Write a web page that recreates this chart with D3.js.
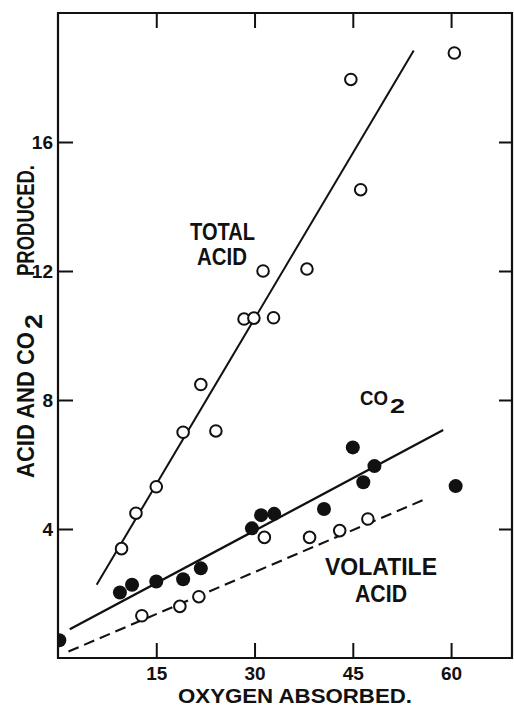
<!DOCTYPE html>
<html>
<head>
<meta charset="utf-8">
<script src="https://cdn.jsdelivr.net/npm/d3@7"></script>
<style>
  html, body { margin: 0; padding: 0; background: #fff; }
  svg { display: block; }
  text { font-family: "Liberation Sans", Arial, sans-serif; font-weight: bold; fill: #111; }
</style>
</head>
<body>
<svg id="chart" width="514" height="709"></svg>
<script>
// ---- data ----
const xTicks = [15, 30, 45, 60];
const yTicks = [4, 8, 12, 16];

const totalAcidX = [9.7, 11.9, 15.0, 19.1, 21.8, 24.1, 28.4, 29.9, 32.9, 31.3, 38.0, 44.7, 46.2, 60.5];
const totalAcidY = [3.39, 4.49, 5.31, 7.0, 8.48, 7.04, 10.51, 10.54, 10.55, 12.0, 12.06, 17.94, 14.52, 18.76];

const co2X = [0.2, 9.45, 11.3, 15.0, 19.1, 21.8, 29.6, 31.0, 33.0, 40.6, 45.0, 46.6, 48.3, 60.7];
const co2Y = [0.55, 2.03, 2.27, 2.37, 2.44, 2.78, 4.02, 4.43, 4.47, 4.62, 6.53, 5.45, 5.95, 5.33];

const volatileX = [12.8, 18.6, 21.5, 31.5, 38.4, 43.0, 47.3];
const volatileY = [1.31, 1.6, 1.9, 3.74, 3.74, 3.95, 4.31];

// fitted lines (endpoints as drawn)
const totalFitX = [5.9, 54.3];
const totalFitY = [2.27, 18.84];
const co2FitX = [1.8, 58.8];
const co2FitY = [0.89, 7.07];
const volatileFitX = [1.6, 56.0];
const volatileFitY = [0.2, 4.92];

// ---- drawing ----
const svg = d3.select("#chart");
const x = d3.scaleLinear().domain([0, 69.3]).range([58, 512]);
const y = d3.scaleLinear().domain([0, 20]).range([658, 13]);

svg.append("clipPath").attr("id", "plotclip")
  .append("rect").attr("x", x(0)).attr("y", y(20)).attr("width", x(69.3) - x(0)).attr("height", y(0) - y(20));

const plot = svg.append("g").attr("clip-path", "url(#plotclip)");

const line = d3.line().x(d => x(d[0])).y(d => y(d[1]));
const pairs = (xs, ys) => xs.map((v, i) => [v, ys[i]]);

plot.append("path").datum(pairs(totalFitX, totalFitY)).attr("d", line)
  .attr("fill", "none").attr("stroke", "#111").attr("stroke-width", 2);
plot.append("path").datum(pairs(co2FitX, co2FitY)).attr("d", line)
  .attr("fill", "none").attr("stroke", "#111").attr("stroke-width", 2.3);
plot.append("path").datum(pairs(volatileFitX, volatileFitY)).attr("d", line)
  .attr("fill", "none").attr("stroke", "#111").attr("stroke-width", 2.1)
  .attr("stroke-dasharray", "11,6");

plot.selectAll("circle.total").data(pairs(totalAcidX, totalAcidY)).join("circle")
  .attr("class", "total").attr("cx", d => x(d[0])).attr("cy", d => y(d[1])).attr("r", 5.8)
  .attr("fill", "#fff").attr("stroke", "#111").attr("stroke-width", 2);
plot.selectAll("circle.vol").data(pairs(volatileX, volatileY)).join("circle")
  .attr("class", "vol").attr("cx", d => x(d[0])).attr("cy", d => y(d[1])).attr("r", 5.8)
  .attr("fill", "#fff").attr("stroke", "#111").attr("stroke-width", 2);
plot.selectAll("circle.co2").data(pairs(co2X, co2Y)).join("circle")
  .attr("class", "co2").attr("cx", d => x(d[0])).attr("cy", d => y(d[1])).attr("r", 7)
  .attr("fill", "#111");

// frame
const frame = svg.append("g").attr("stroke", "#111").attr("stroke-width", 2.2).attr("fill", "none");
frame.append("path").attr("d", `M${x(0)},${y(20)}H${x(69.3)}V${y(0)}H${x(0)}Z`);

// axes with inward ticks
const tickLen = 15;
svg.append("g").attr("transform", `translate(0,${y(0)})`)
  .call(d3.axisBottom(x).tickValues(xTicks).tickSizeInner(-tickLen).tickSizeOuter(0).tickPadding(9))
  .call(g => g.select(".domain").remove());
svg.append("g").attr("transform", `translate(0,${y(20)})`)
  .call(d3.axisTop(x).tickValues(xTicks).tickSizeInner(-tickLen).tickSizeOuter(0).tickFormat(""))
  .call(g => g.select(".domain").remove());
svg.append("g").attr("transform", `translate(${x(0)},0)`)
  .call(d3.axisLeft(y).tickValues(yTicks).tickSizeInner(-tickLen).tickSizeOuter(0).tickPadding(5))
  .call(g => g.select(".domain").remove());
svg.append("g").attr("transform", `translate(${x(69.3)},0)`)
  .call(d3.axisRight(y).tickValues(yTicks).tickSizeInner(-13).tickSizeOuter(0).tickFormat(""))
  .call(g => g.select(".domain").remove());

svg.selectAll(".tick line").attr("stroke", "#111").attr("stroke-width", 2);
svg.selectAll(".tick text").attr("font-family", "'Liberation Sans', Arial, sans-serif")
  .attr("font-weight", "bold").attr("font-size", 19).attr("fill", "#111");

// helper for fitted-width text
function label(xp, yp, str, size, len, anchor) {
  return svg.append("text").attr("x", xp).attr("y", yp).attr("text-anchor", anchor || "start")
    .attr("font-size", size).attr("textLength", len).attr("lengthAdjust", "spacingAndGlyphs").text(str);
}

// axis titles
label(178, 703, "OXYGEN ABSORBED.", 21, 234);

const yTitle = svg.append("g").attr("transform", "translate(34,0) rotate(-90)");
yTitle.append("text").attr("x", -478).attr("y", 0).attr("font-size", 24)
  .attr("textLength", 146).attr("lengthAdjust", "spacingAndGlyphs").text("ACID AND CO");
yTitle.append("text").attr("x", -329).attr("y", 8).attr("font-size", 24)
  .attr("textLength", 15).attr("lengthAdjust", "spacingAndGlyphs").text("2");
yTitle.append("text").attr("x", -276).attr("y", 0).attr("font-size", 24)
  .attr("textLength", 111).attr("lengthAdjust", "spacingAndGlyphs").text("PRODUCED.");

// annotations
label(190, 240, "TOTAL", 23, 65);
label(197, 265, "ACID", 23, 50);

label(360, 405, "CO", 21, 28);
label(390, 413, "2", 21, 15);

label(325, 575, "VOLATILE", 23, 112);
label(355, 602, "ACID", 23, 52);
</script>
</body>
</html>
